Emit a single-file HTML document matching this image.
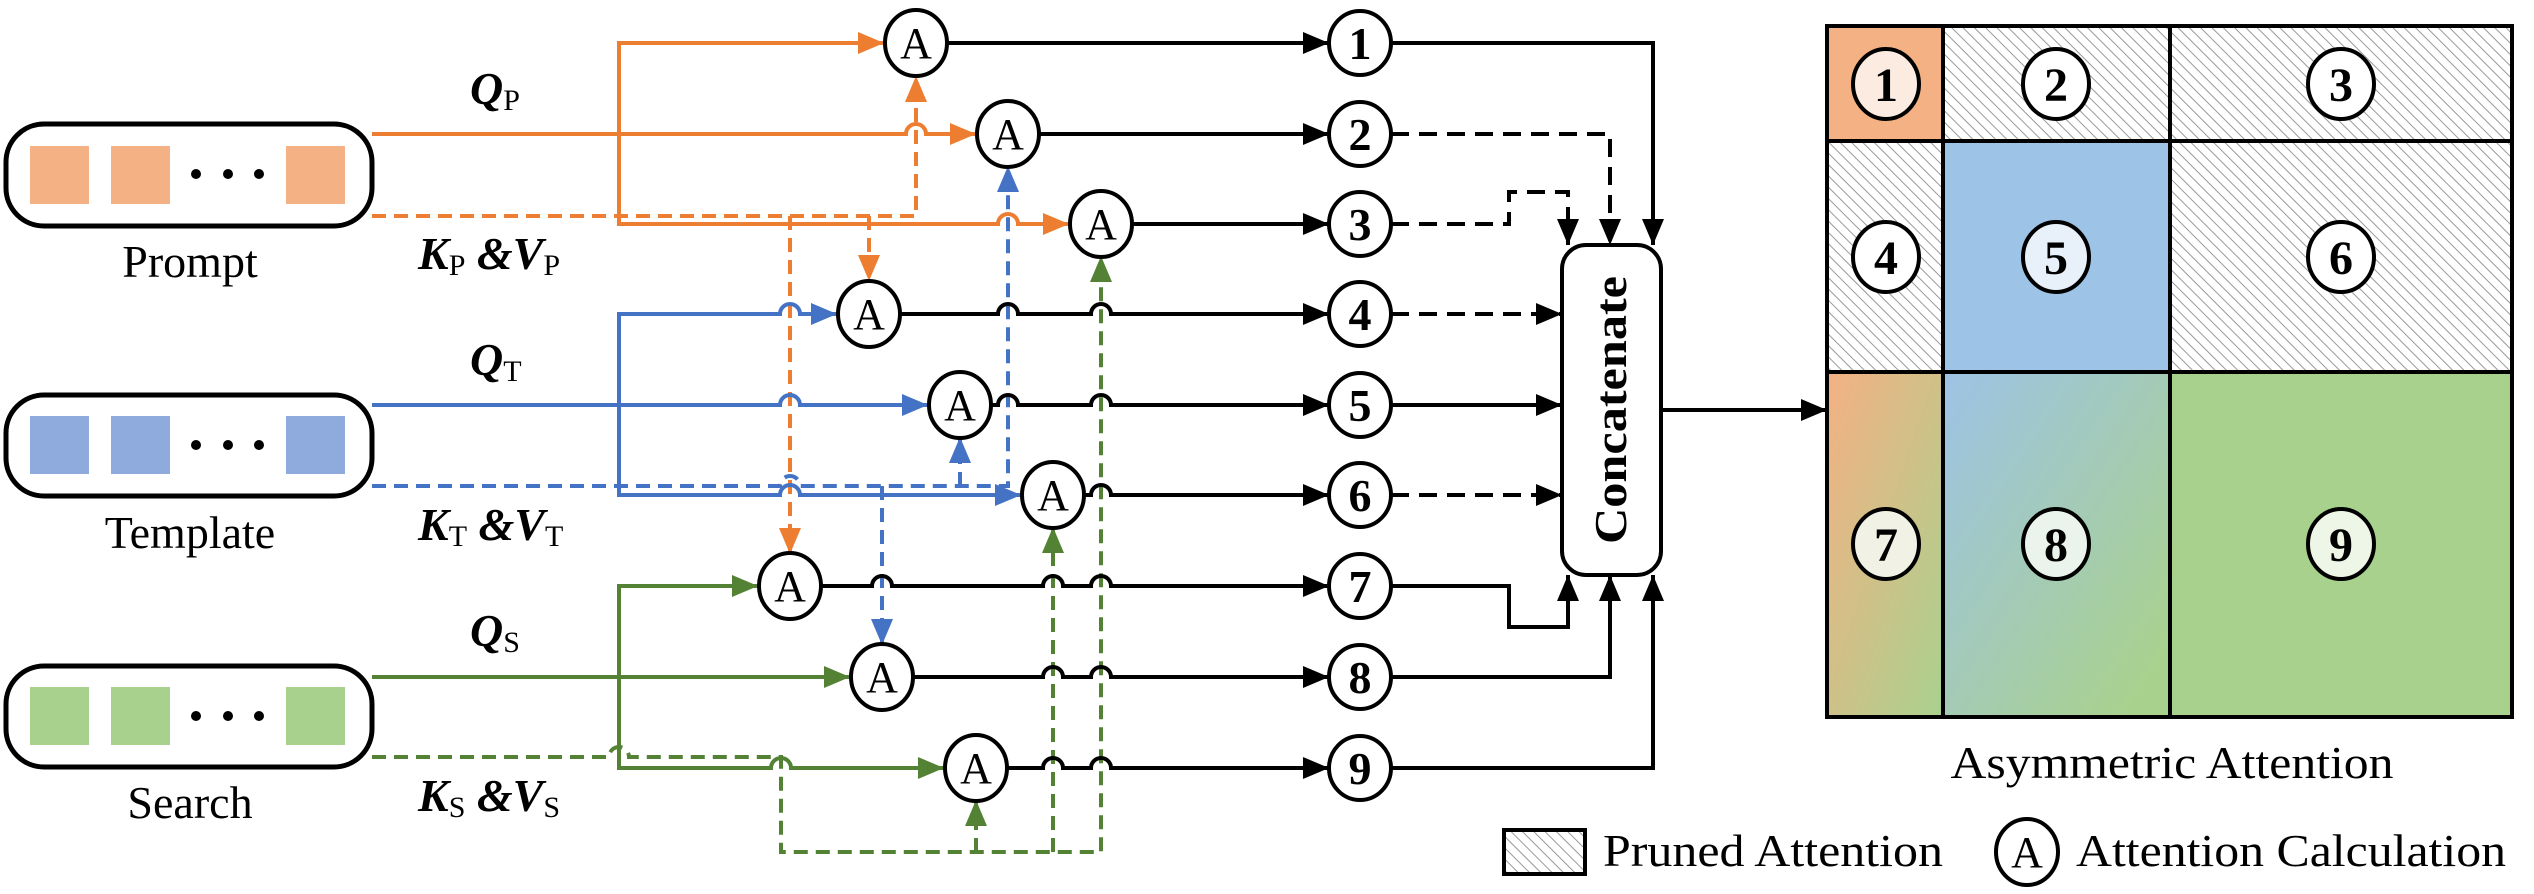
<!DOCTYPE html>
<html><head><meta charset="utf-8"><style>html,body{margin:0;padding:0;background:#fff}svg{display:block}svg text{font-family:"Liberation Serif","Times New Roman",Times,"Noto Serif CJK SC","DejaVu Serif",serif}</style></head><body>
<svg width="2534" height="894" viewBox="0 0 2534 894" xmlns="http://www.w3.org/2000/svg">
<defs>
<marker id="mo" markerUnits="userSpaceOnUse" markerWidth="26" markerHeight="22" refX="26" refY="11" orient="auto"><path d="M0,0 L26,11 L0,22z" fill="#ED7D31"/></marker>
<marker id="mb" markerUnits="userSpaceOnUse" markerWidth="26" markerHeight="22" refX="26" refY="11" orient="auto"><path d="M0,0 L26,11 L0,22z" fill="#4472C4"/></marker>
<marker id="mg" markerUnits="userSpaceOnUse" markerWidth="26" markerHeight="22" refX="26" refY="11" orient="auto"><path d="M0,0 L26,11 L0,22z" fill="#548235"/></marker>
<marker id="mk" markerUnits="userSpaceOnUse" markerWidth="26" markerHeight="22" refX="26" refY="11" orient="auto"><path d="M0,0 L26,11 L0,22z" fill="#000"/></marker>
<pattern id="hatch" patternUnits="userSpaceOnUse" width="8" height="8" patternTransform="rotate(-45)"><rect width="8" height="8" fill="#fff"/><line x1="0" y1="0" x2="0" y2="8" stroke="#999" stroke-width="2"/></pattern>
<linearGradient id="g7" x1="0" y1="0" x2="1" y2="1"><stop offset="0" stop-color="#F4B183"/><stop offset="1" stop-color="#A9D18E"/></linearGradient>
<linearGradient id="g8" x1="0" y1="0" x2="1" y2="1"><stop offset="0" stop-color="#9DC3E6"/><stop offset="0.9" stop-color="#A9D18E"/></linearGradient>
</defs>

<g stroke="#000" stroke-width="5" fill="#fff">
<rect x="6" y="124" width="366" height="102" rx="38"/>
<rect x="6" y="395" width="366" height="101" rx="38"/>
<rect x="6" y="666" width="366" height="101" rx="38"/>
</g>
<g fill="#F4B183"><rect x="30" y="146" width="59" height="58"/><rect x="111" y="146" width="59" height="58"/><rect x="286" y="146" width="59" height="58"/></g>
<g fill="#8FAADC"><rect x="30" y="416" width="59" height="58"/><rect x="111" y="416" width="59" height="58"/><rect x="286" y="416" width="59" height="58"/></g>
<g fill="#A9D18E"><rect x="30" y="687" width="59" height="58"/><rect x="111" y="687" width="59" height="58"/><rect x="286" y="687" width="59" height="58"/></g>
<g fill="#000"><circle cx="196" cy="174" r="5"/><circle cx="228" cy="174" r="5"/><circle cx="259" cy="174" r="5"/>
<circle cx="196" cy="445" r="5"/><circle cx="228" cy="445" r="5"/><circle cx="259" cy="445" r="5"/>
<circle cx="196" cy="716" r="5"/><circle cx="228" cy="716" r="5"/><circle cx="259" cy="716" r="5"/></g>
<g font-size="46" text-anchor="middle">
<text x="190" y="277">Prompt</text>
<text x="190" y="548">Template</text>
<text x="190" y="818">Search</text>
</g>
<g font-size="46">
<text x="470" y="104"><tspan font-weight="bold" font-style="italic">Q</tspan><tspan font-size="30" dy="6">P</tspan></text>
<text x="470" y="375"><tspan font-weight="bold" font-style="italic">Q</tspan><tspan font-size="30" dy="6">T</tspan></text>
<text x="470" y="646"><tspan font-weight="bold" font-style="italic">Q</tspan><tspan font-size="30" dy="6">S</tspan></text>
<text x="418" y="269"><tspan font-weight="bold" font-style="italic">K</tspan><tspan font-size="30" dy="6">P</tspan><tspan font-weight="bold" font-style="italic" dy="-6"> &amp;V</tspan><tspan font-size="30" dy="6">P</tspan></text>
<text x="418" y="540"><tspan font-weight="bold" font-style="italic">K</tspan><tspan font-size="30" dy="6">T</tspan><tspan font-weight="bold" font-style="italic" dy="-6"> &amp;V</tspan><tspan font-size="30" dy="6">T</tspan></text>
<text x="418" y="811"><tspan font-weight="bold" font-style="italic">K</tspan><tspan font-size="30" dy="6">S</tspan><tspan font-weight="bold" font-style="italic" dy="-6"> &amp;V</tspan><tspan font-size="30" dy="6">S</tspan></text>
</g>

<g fill="none" stroke-width="4">
<g stroke="#ED7D31">
<path d="M372,134 H906 a10,10 0 0 1 20,0 H976" marker-end="url(#mo)"/>
<path d="M619,134 V43 H884" marker-end="url(#mo)"/>
<path d="M619,134 V224 H998 a10,10 0 0 1 20,0 H1069" marker-end="url(#mo)"/>
<g stroke-dasharray="14 8">
<path d="M372,216 H916 V76" marker-end="url(#mo)"/>
<path d="M790,216 V554" marker-end="url(#mo)"/>
<path d="M869,216 V281" marker-end="url(#mo)"/>
</g></g>
<g stroke="#4472C4">
<path d="M372,405 H780 a10,10 0 0 1 20,0 H928" marker-end="url(#mb)"/>
<path d="M619,405 V314 H780 a10,10 0 0 1 20,0 H837" marker-end="url(#mb)"/>
<path d="M619,405 V495 H780 a10,10 0 0 1 20,0 H1021" marker-end="url(#mb)"/>
<g stroke-dasharray="14 8">
<path d="M372,486 H780 a10,10 0 0 1 20,0 H1008 V166" marker-end="url(#mb)"/>
<path d="M960,486 V437" marker-end="url(#mb)"/>
<path d="M882,486 V645" marker-end="url(#mb)"/>
</g></g>
<g stroke="#548235">
<path d="M372,677 H850" marker-end="url(#mg)"/>
<path d="M619,677 V586 H758" marker-end="url(#mg)"/>
<path d="M619,677 V768 H771 a10,10 0 0 1 20,0 H944" marker-end="url(#mg)"/>
<g stroke-dasharray="14 8">
<path d="M372,757 H609 a10,10 0 0 1 20,0 H781 V852 H1101 V256" marker-end="url(#mg)"/>
<path d="M976,852 V800" marker-end="url(#mg)"/>
<path d="M1053,852 V527" marker-end="url(#mg)"/>
</g></g>
<g stroke="#000">
<path d="M948,43 H1329" marker-end="url(#mk)"/>
<path d="M1040,134 H1329" marker-end="url(#mk)"/>
<path d="M1133,224 H1329" marker-end="url(#mk)"/>
<path d="M901,314 H998 a10,10 0 0 1 20,0 H1091 a10,10 0 0 1 20,0 H1329" marker-end="url(#mk)"/>
<path d="M992,405 H998 a10,10 0 0 1 20,0 H1091 a10,10 0 0 1 20,0 H1329" marker-end="url(#mk)"/>
<path d="M1085,495 H1091 a10,10 0 0 1 20,0 H1329" marker-end="url(#mk)"/>
<path d="M822,586 H872 a10,10 0 0 1 20,0 H1043 a10,10 0 0 1 20,0 H1091 a10,10 0 0 1 20,0 H1329" marker-end="url(#mk)"/>
<path d="M914,677 H1043 a10,10 0 0 1 20,0 H1091 a10,10 0 0 1 20,0 H1329" marker-end="url(#mk)"/>
<path d="M1008,768 H1043 a10,10 0 0 1 20,0 H1091 a10,10 0 0 1 20,0 H1329" marker-end="url(#mk)"/>
<path d="M1391,43 H1653 V245" marker-end="url(#mk)"/>
<path d="M1391,134 H1610 V245" stroke-dasharray="18 10" marker-end="url(#mk)"/>
<path d="M1391,224 H1509 V192 H1568 V245" stroke-dasharray="18 10" marker-end="url(#mk)"/>
<path d="M1391,314 H1562" stroke-dasharray="18 10" marker-end="url(#mk)"/>
<path d="M1391,405 H1562" marker-end="url(#mk)"/>
<path d="M1391,495 H1562" stroke-dasharray="18 10" marker-end="url(#mk)"/>
<path d="M1391,586 H1509 V627 H1568 V575" marker-end="url(#mk)"/>
<path d="M1391,677 H1610 V575" marker-end="url(#mk)"/>
<path d="M1391,768 H1653 V575" marker-end="url(#mk)"/>
<path d="M1661,410 H1827" marker-end="url(#mk)"/>
</g>
</g>

<g stroke="#000" stroke-width="4" fill="#fff">
<ellipse cx="916" cy="43" rx="31" ry="33"/><ellipse cx="1008" cy="134" rx="31" ry="33"/><ellipse cx="1101" cy="224" rx="31" ry="33"/>
<ellipse cx="869" cy="314" rx="31" ry="33"/><ellipse cx="960" cy="405" rx="31" ry="33"/><ellipse cx="1053" cy="495" rx="31" ry="33"/>
<ellipse cx="790" cy="586" rx="31" ry="33"/><ellipse cx="882" cy="677" rx="31" ry="33"/><ellipse cx="976" cy="768" rx="31" ry="33"/>
</g>
<g font-size="44" text-anchor="middle">
<text x="916" y="58">A</text><text x="1008" y="149">A</text><text x="1101" y="239">A</text>
<text x="869" y="329">A</text><text x="960" y="420">A</text><text x="1053" y="510">A</text>
<text x="790" y="601">A</text><text x="882" y="692">A</text><text x="976" y="783">A</text>
</g>
<g stroke="#000" stroke-width="4" fill="#fff">
<ellipse cx="1360" cy="43" rx="31" ry="32"/><ellipse cx="1360" cy="134" rx="31" ry="32"/><ellipse cx="1360" cy="224" rx="31" ry="32"/>
<ellipse cx="1360" cy="314" rx="31" ry="32"/><ellipse cx="1360" cy="405" rx="31" ry="32"/><ellipse cx="1360" cy="495" rx="31" ry="32"/>
<ellipse cx="1360" cy="586" rx="31" ry="32"/><ellipse cx="1360" cy="677" rx="31" ry="32"/><ellipse cx="1360" cy="768" rx="31" ry="32"/>
</g>
<g font-size="46" font-weight="bold" text-anchor="middle">
<text x="1360" y="59">1</text><text x="1360" y="150">2</text><text x="1360" y="240">3</text>
<text x="1360" y="330">4</text><text x="1360" y="421">5</text><text x="1360" y="511">6</text>
<text x="1360" y="602">7</text><text x="1360" y="693">8</text><text x="1360" y="784">9</text>
</g>
<rect x="1562" y="245" width="99" height="330" rx="24" fill="#fff" stroke="#000" stroke-width="4"/>
<text transform="translate(1626,410) rotate(-90)" font-size="46" font-weight="bold" text-anchor="middle" textLength="268" lengthAdjust="spacingAndGlyphs">Concatenate</text>

<rect x="1827" y="26" width="116" height="115" fill="#F4B183"/>
<rect x="1943" y="26" width="227" height="115" fill="url(#hatch)"/>
<rect x="2170" y="26" width="342" height="115" fill="url(#hatch)"/>
<rect x="1827" y="141" width="116" height="231" fill="url(#hatch)"/>
<rect x="1943" y="141" width="227" height="231" fill="#9DC3E6"/>
<rect x="2170" y="141" width="342" height="231" fill="url(#hatch)"/>
<rect x="1827" y="372" width="116" height="345" fill="url(#g7)"/>
<rect x="1943" y="372" width="227" height="345" fill="url(#g8)"/>
<rect x="2170" y="372" width="342" height="345" fill="#A9D18E"/>
<g stroke="#000" stroke-width="4" fill="none">
<rect x="1827" y="26" width="685" height="691"/>
<path d="M1943,26 V717 M2170,26 V717 M1827,141 H2512 M1827,372 H2512"/>
</g>
<g stroke="#000" stroke-width="4">
<ellipse cx="1886" cy="84" rx="33" ry="35" fill="#FCEBE0"/><ellipse cx="2056" cy="84" rx="33" ry="35" fill="#fff"/><ellipse cx="2341" cy="84" rx="33" ry="35" fill="#fff"/>
<ellipse cx="1886" cy="257" rx="33" ry="35" fill="#fff"/><ellipse cx="2056" cy="257" rx="33" ry="35" fill="#E8F1FA"/><ellipse cx="2341" cy="257" rx="33" ry="35" fill="#fff"/>
<ellipse cx="1886" cy="544" rx="33" ry="35" fill="#F1F1E6"/><ellipse cx="2056" cy="544" rx="33" ry="35" fill="#EAF3EC"/><ellipse cx="2341" cy="544" rx="33" ry="35" fill="#EEF6E8"/>
</g>
<g font-size="48" font-weight="bold" text-anchor="middle">
<text x="1886" y="101">1</text><text x="2056" y="101">2</text><text x="2341" y="101">3</text>
<text x="1886" y="274">4</text><text x="2056" y="274">5</text><text x="2341" y="274">6</text>
<text x="1886" y="561">7</text><text x="2056" y="561">8</text><text x="2341" y="561">9</text>
</g>
<text x="2172" y="778" font-size="46" text-anchor="middle" textLength="443" lengthAdjust="spacingAndGlyphs">Asymmetric Attention</text>
<rect x="1504" y="830" width="81" height="44" fill="url(#hatch)" stroke="#000" stroke-width="4"/>
<text x="1603" y="866" font-size="46" textLength="340" lengthAdjust="spacingAndGlyphs">Pruned Attention</text>
<ellipse cx="2027" cy="852" rx="31" ry="33" fill="#fff" stroke="#000" stroke-width="4"/>
<text x="2027" y="867" font-size="44" text-anchor="middle">A</text>
<text x="2076" y="866" font-size="46" textLength="430" lengthAdjust="spacingAndGlyphs">Attention Calculation</text>
</svg>
</body></html>
